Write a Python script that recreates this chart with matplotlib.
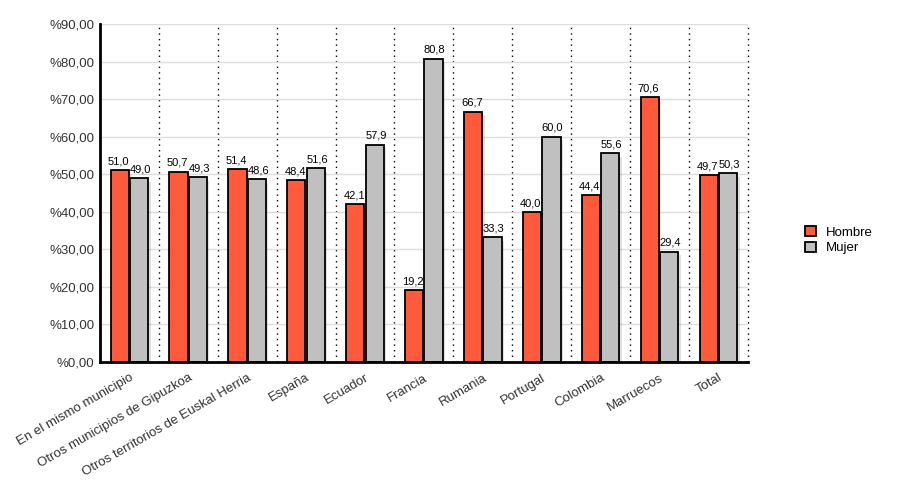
import matplotlib
matplotlib.use('Agg')
import matplotlib.pyplot as plt
import numpy as np

plt.rcParams['font.family'] = ['Liberation Sans', 'DejaVu Sans']

categories = ['En el mismo municipio', 'Otros municipios de Gipuzkoa',
              'Otros territorios de Euskal Herria', 'España', 'Ecuador', 'Francia',
              'Rumania', 'Portugal', 'Colombia', 'Marruecos', 'Total']
hombre = [51.0, 50.7, 51.4, 48.4, 42.1, 19.2, 66.7, 40.0, 44.4, 70.6, 49.7]
mujer = [49.0, 49.3, 48.6, 51.6, 57.9, 80.8, 33.3, 60.0, 55.6, 29.4, 50.3]

red = '#ff5a3c'
grey = '#c0c0c0'

x = np.arange(len(categories))
w = 0.31
off = 0.165

fig = plt.figure(figsize=(9, 5), dpi=100)
ax = fig.add_axes([0.111, 0.276, 0.72, 0.676])

# soft shadows behind bars
for dx in (off, -off):
    vals = hombre if dx < 0 else mujer
    ax.bar(x + dx + 0.04, np.array(vals) - 0.5, w, bottom=-0.5, color='#000000',
           alpha=0.12, linewidth=0, zorder=2)

b1 = ax.bar(x - off, hombre, w, color=red, edgecolor='black', linewidth=1.3,
            label='Hombre', zorder=3)
b2 = ax.bar(x + off, mujer, w, color=grey, edgecolor='black', linewidth=1.3,
            label='Mujer', zorder=3)

for i in range(len(categories)):
    ax.text(x[i] - off - 0.02, hombre[i] + 1, ('%.1f' % hombre[i]).replace('.', ','),
            ha='center', va='bottom', fontsize=8, zorder=4)
    ax.text(x[i] + off + 0.02, mujer[i] + 1, ('%.1f' % mujer[i]).replace('.', ','),
            ha='center', va='bottom', fontsize=8, zorder=4)

ax.set_xlim(-0.5, len(categories) - 0.5)
ax.set_ylim(0, 90)
ax.set_yticks(np.arange(0, 91, 10))
ax.set_yticklabels(['%%%d,00' % v for v in range(0, 91, 10)], fontsize=9.5, color='#333333')
ax.yaxis.grid(True, color='#dddddd', linewidth=1, zorder=0)
for b in np.arange(0.5, len(categories) + 0.1, 1):
    ax.axvline(b, color='black', linestyle=(0, (1, 3)), linewidth=1, zorder=1,
               clip_on=False)

ax.set_xticks(x)
ax.set_xticklabels(categories, rotation=30, ha='right', rotation_mode='anchor',
                   fontsize=9.5, color='#333333')
ax.tick_params(axis='x', length=0, pad=7)
ax.tick_params(axis='y', length=0, pad=4)

for s in ('top', 'right'):
    ax.spines[s].set_visible(False)
ax.spines['left'].set_linewidth(2)
ax.spines['bottom'].set_linewidth(2)
ax.spines['left'].set_zorder(5)
ax.spines['bottom'].set_zorder(5)

ax.legend(loc='center left', bbox_to_anchor=(1.07, 0.36), frameon=False,
          fontsize=9.5, handlelength=0.8, handleheight=0.8, handletextpad=0.8,
          labelspacing=0.2)

fig.savefig('out.png', dpi=100)
